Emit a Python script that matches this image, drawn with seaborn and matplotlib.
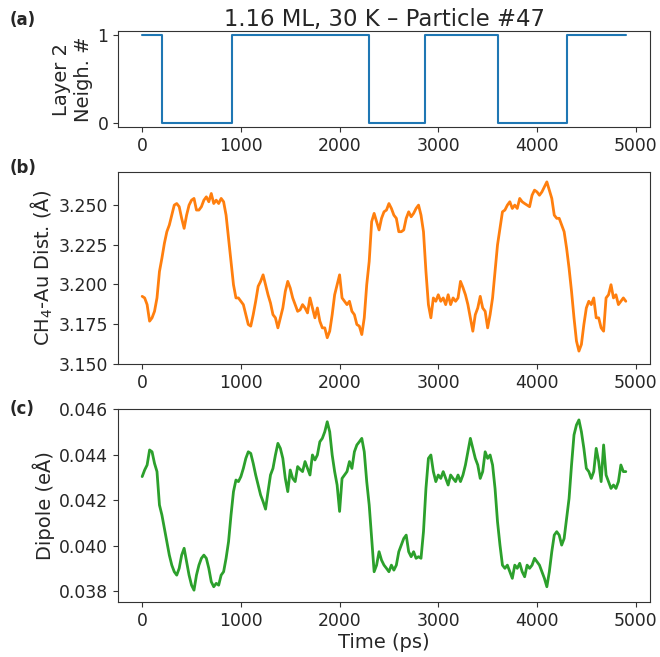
import numpy as np
import pandas as pd
import matplotlib
matplotlib.use("Agg")
import matplotlib.pyplot as plt
import seaborn as sns

# ---------------- data ----------------
# panel (a): layer-2 neighbour count, step changes
step_times = [0, 200, 905, 2300, 2870, 3600, 4300, 4900]
step_neigh = [1, 0, 1, 0, 1, 0, 1, 1]

# sampling grid for traces (ps)
time_ps = np.arange(0, 4901, 25)

# panel (b): CH4-Au distance (Å)
dist = [
    3.1925, 3.1915, 3.1873, 3.1769, 3.1790, 3.1831, 3.1915, 3.2081, 3.2165, 3.2258,
    3.2331, 3.2373, 3.2435, 3.2498, 3.2508, 3.2488, 3.2415, 3.2352, 3.2435, 3.2498,
    3.2529, 3.2540, 3.2467, 3.2467, 3.2488, 3.2529, 3.2550, 3.2519, 3.2571, 3.2508,
    3.2529, 3.2508, 3.2540, 3.2519, 3.2435, 3.2290, 3.2144, 3.1998, 3.1915, 3.1915,
    3.1894, 3.1873, 3.1810, 3.1748, 3.1738, 3.1810, 3.1894, 3.1988, 3.2019, 3.2060,
    3.1998, 3.1935, 3.1883, 3.1810, 3.1790, 3.1727, 3.1790, 3.1852, 3.1956, 3.2019,
    3.1977, 3.1915, 3.1873, 3.1831, 3.1840, 3.1873, 3.1852, 3.1821, 3.1915, 3.1852,
    3.1790, 3.1852, 3.1769, 3.1727, 3.1727, 3.1665, 3.1706, 3.1810, 3.1935, 3.1998,
    3.2060, 3.1915, 3.1894, 3.1873, 3.1894, 3.1831, 3.1810, 3.1748, 3.1738, 3.1685,
    3.1790, 3.1998, 3.2144, 3.2394, 3.2446, 3.2394, 3.2342, 3.2415, 3.2456, 3.2467,
    3.2508, 3.2477, 3.2435, 3.2415, 3.2331, 3.2331, 3.2342, 3.2415, 3.2456, 3.2425,
    3.2446, 3.2477, 3.2498, 3.2435, 3.2331, 3.2081, 3.1873, 3.1790, 3.1915, 3.1894,
    3.1935, 3.1894, 3.1915, 3.1873, 3.1935, 3.1873, 3.1915, 3.1894, 3.1915, 3.2019,
    3.1980, 3.1935, 3.1873, 3.1790, 3.1706, 3.1810, 3.1852, 3.1925, 3.1852, 3.1831,
    3.1727, 3.1810, 3.1915, 3.2081, 3.2248, 3.2352, 3.2456, 3.2467, 3.2498, 3.2519,
    3.2477, 3.2498, 3.2477, 3.2540, 3.2519, 3.2508, 3.2498, 3.2488, 3.2560, 3.2592,
    3.2581, 3.2560, 3.2581, 3.2613, 3.2644, 3.2592, 3.2540, 3.2435, 3.2415, 3.2415,
    3.2373, 3.2331, 3.2227, 3.2102, 3.1956, 3.1790, 3.1644, 3.1581, 3.1623, 3.1748,
    3.1852, 3.1894, 3.1873, 3.1915, 3.1790, 3.1790, 3.1727, 3.1706, 3.1915, 3.1935,
    3.1998, 3.1915, 3.1935, 3.1873, 3.1894, 3.1915, 3.1894,
]

# panel (c): dipole (eÅ)
dipole = [
    0.04303, 0.04332, 0.04354, 0.04420, 0.04412, 0.04361, 0.04325, 0.04178, 0.04134, 0.04075,
    0.04017, 0.03958, 0.03914, 0.03885, 0.03870, 0.03900, 0.03958, 0.03988, 0.03929, 0.03870,
    0.03826, 0.03804, 0.03870, 0.03914, 0.03944, 0.03958, 0.03944, 0.03900, 0.03841, 0.03819,
    0.03834, 0.03826, 0.03870, 0.03885, 0.03944, 0.04017, 0.04134, 0.04237, 0.04288, 0.04281,
    0.04303, 0.04339, 0.04383, 0.04412, 0.04405, 0.04361, 0.04310, 0.04266, 0.04222, 0.04193,
    0.04160, 0.04237, 0.04310, 0.04339, 0.04398, 0.04449, 0.04427, 0.04383, 0.04295, 0.04237,
    0.04332, 0.04295, 0.04281, 0.04347, 0.04335, 0.04325, 0.04369, 0.04339, 0.04310, 0.04398,
    0.04376, 0.04398, 0.04456, 0.04471, 0.04500, 0.04544, 0.04500, 0.04398, 0.04325, 0.04266,
    0.04150, 0.04295, 0.04310, 0.04325, 0.04369, 0.04339, 0.04412, 0.04442, 0.04456, 0.04471,
    0.04412, 0.04281, 0.04178, 0.04031, 0.03885, 0.03914, 0.03973, 0.03936, 0.03914, 0.03900,
    0.03885, 0.03914, 0.03892, 0.03914, 0.03973, 0.04002, 0.04031, 0.04046, 0.03973, 0.03951,
    0.03973, 0.03944, 0.03951, 0.03944, 0.04061, 0.04251, 0.04383, 0.04398, 0.04325, 0.04281,
    0.04310, 0.04295, 0.04325, 0.04295, 0.04266, 0.04310, 0.04295, 0.04281, 0.04310, 0.04281,
    0.04310, 0.04354, 0.04412, 0.04471, 0.04427, 0.04383, 0.04354, 0.04295, 0.04325, 0.04412,
    0.04383, 0.04398, 0.04354, 0.04251, 0.04105, 0.04002, 0.03914, 0.03900, 0.03914, 0.03885,
    0.03856, 0.03914, 0.03900, 0.03922, 0.03885, 0.03863, 0.03914, 0.03900, 0.03914, 0.03944,
    0.03929, 0.03914, 0.03885, 0.03856, 0.03819, 0.03885, 0.03973, 0.04046, 0.04061, 0.04046,
    0.04002, 0.04031, 0.04119, 0.04207, 0.04354, 0.04486, 0.04530, 0.04552, 0.04500, 0.04427,
    0.04339, 0.04325, 0.04295, 0.04325, 0.04427, 0.04369, 0.04281, 0.04442, 0.04310, 0.04281,
    0.04251, 0.04266, 0.04251, 0.04281, 0.04354, 0.04325, 0.04325,
]

title = "1.16 ML, 30 K – Particle #47"
panel_labels = ["(a)", "(b)", "(c)"]
ylabels = ["Layer 2\nNeigh. #", "CH$_4$-Au Dist. (Å)", "Dipole (eÅ)"]
xlabel = "Time (ps)"
xticks = [0, 1000, 2000, 3000, 4000, 5000]
yticks_a = [0, 1]
yticks_b = [3.150, 3.175, 3.200, 3.225, 3.250]
yticks_c = [0.038, 0.040, 0.042, 0.044, 0.046]

# ---------------- plot ----------------
sns.set_style("ticks")
plt.rcParams["font.family"] = ["DejaVu Sans"]

df_a = pd.DataFrame({"t": step_times, "n": step_neigh})
df_bc = pd.DataFrame({"t": time_ps, "d": dist, "p": dipole})

fig = plt.figure(figsize=(6.6, 6.57), dpi=100)
W, H = 660, 657

def box(l, t, r, b):
    return [l / W, 1 - b / H, (r - l) / W, (b - t) / H]

ax_a = fig.add_axes(box(118, 31, 650, 127))
ax_b = fig.add_axes(box(118, 172, 650, 364))
ax_c = fig.add_axes(box(118, 409, 650, 602))

sns.lineplot(data=df_a, x="t", y="n", ax=ax_a, color="#1f77b4",
             drawstyle="steps-post", linewidth=1.5, estimator=None)
sns.lineplot(data=df_bc, x="t", y="d", ax=ax_b, color="#ff7f0e",
             linewidth=2.0, estimator=None)
sns.lineplot(data=df_bc, x="t", y="p", ax=ax_c, color="#2ca02c",
             linewidth=2.0, estimator=None)

for ax in (ax_a, ax_b, ax_c):
    ax.set_xlim(-245, 5145)
    ax.set_xticks(xticks)
    ax.tick_params(labelsize=12.4, length=3.5, width=0.8, color="#333333")
    for s in ax.spines.values():
        s.set_visible(True)
        s.set_color("#333333")
        s.set_linewidth(0.8)
    ax.set_xlabel("")

ax_a.set_ylim(-0.05, 1.05)
ax_a.set_yticks(yticks_a)
ax_b.set_ylim(3.150, 3.2706)
ax_b.set_yticks(yticks_b)
ax_b.set_yticklabels([f"{v:.3f}" for v in yticks_b])
ax_c.set_ylim(0.03752, 0.046)
ax_c.set_yticks(yticks_c)
ax_c.set_yticklabels([f"{v:.3f}" for v in yticks_c])

for ax, lab in zip((ax_a, ax_b, ax_c), ylabels):
    ax.set_ylabel(lab, fontsize=14, labelpad=3)
ax_c.set_xlabel(xlabel, fontsize=14, labelpad=2)
ax_a.set_title(title, fontsize=16.4, pad=2)

for lab, y in zip(panel_labels, [20, 168, 409]):
    fig.text(10 / W, 1 - y / H, lab, fontsize=12, fontweight="bold",
             va="center", ha="left")

fig.savefig("out.png", dpi=100)
